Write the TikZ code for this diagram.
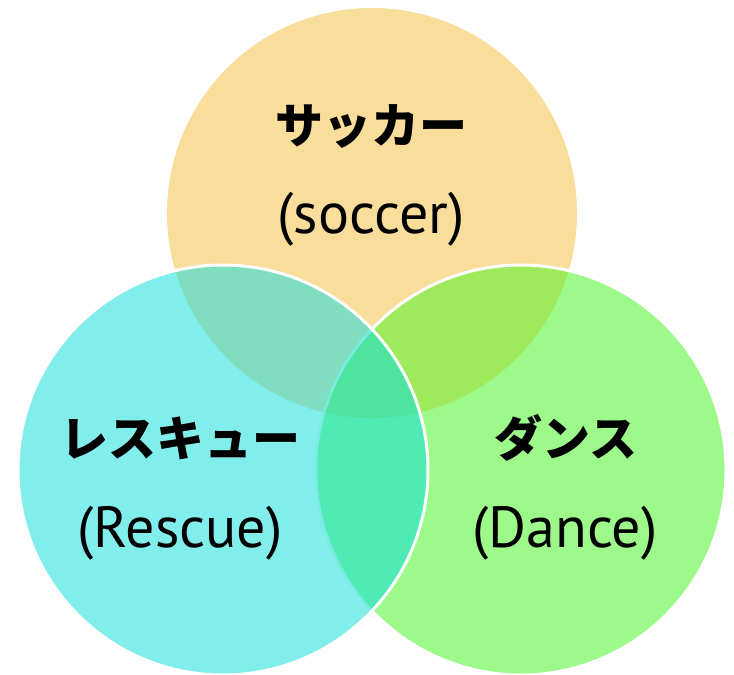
\documentclass[tikz,border=0pt]{standalone}
\usepackage{fontspec}
\setmainfont{PT Sans}
\newfontfamily\jpfont{Noto Sans CJK JP}
\definecolor{cOr}{HTML}{F9DD9B}
\definecolor{cCy}{HTML}{82EEEC}
\definecolor{cGr}{HTML}{9EF98B}
\definecolor{cOC}{HTML}{80DDBF}
\definecolor{cOG}{HTML}{9FEA5C}
\definecolor{cCG}{HTML}{4FEBB5}
\definecolor{cAll}{HTML}{4FE49E}
\definecolor{cLine}{HTML}{7AEBE2}
\tikzset{
  rad/.style={radius=205pt},
  rim/.style={draw=white,line width=3pt},
  jp/.style={font=\jpfont\bfseries\fontsize{48}{52}\selectfont,text=black,inner sep=0pt},
  en/.style={font=\fontsize{58}{62}\selectfont,text=black,inner sep=0pt}
}
\begin{document}
\begin{tikzpicture}[x=1pt,y=-1pt]
\useasboundingbox (0,0) rectangle (734,675);
\coordinate (O) at (372,213);
\coordinate (L) at (223,470);
\coordinate (G) at (521,470);
% orange circle
\fill[cOr] (O) circle[rad];
% green circle
\fill[cGr] (G) circle[rad];
\begin{scope}
  \clip (O) circle[rad];
  \fill[cOG] (G) circle[rad];
\end{scope}
\draw[rim] (G) circle[rad];
% cyan circle
\fill[cCy] (L) circle[rad];
\begin{scope}
  \clip (L) circle[rad];
  \fill[cOC] (O) circle[rad];
  \fill[cCG] (G) circle[rad];
  \clip (G) circle[rad];
  \fill[cAll] (O) circle[rad];
\end{scope}
\begin{scope}
  \clip (L) circle[rad];
  \draw[cLine,line width=2.5pt] (G) circle[rad];
\end{scope}
\draw[rim] (L) circle[rad];
% labels
\node[jp] (t1) at (371,127) {サッカー};
\node[en] (t2) at (371,219) {(soccer)};
\node[jp] (t3) at (180,438) {レスキュー};
\node[en] (t4) at (180,533) {(Rescue)};
\node[jp] (t5) at (566,438) {ダンス};
\node[en] (t6) at (565,533) {(Dance)};
\end{tikzpicture}
\end{document}
